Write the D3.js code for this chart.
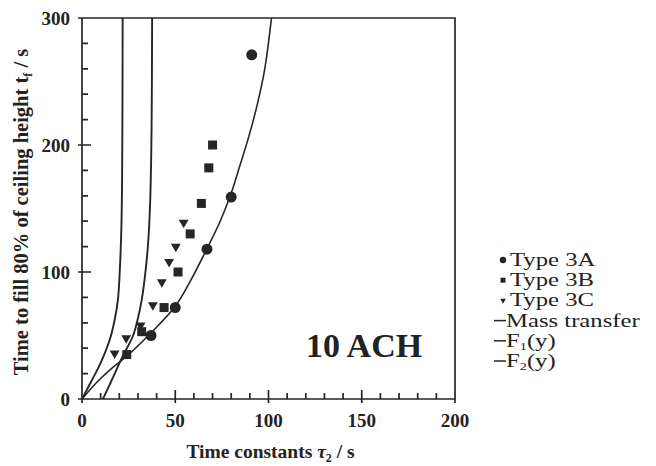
<!DOCTYPE html>
<html>
<head>
<meta charset="utf-8">
<script src="https://cdn.jsdelivr.net/npm/d3@7/dist/d3.min.js"></script>
<style>
  html, body { margin: 0; padding: 0; background: #fff; }
  svg { display: block; }
  text { font-family: "Liberation Serif", "Times New Roman", serif; fill: #222; }
</style>
</head>
<body>
<svg id="chart" width="656" height="466"></svg>
<script>
// Axis ticks
const xTicks = [0, 50, 100, 150, 200];
const yTicks = [0, 100, 200, 300];
const xMinor = d3.range(0, 201, 10);
const yMinor = d3.range(0, 301, 20);

// Measured fill times t_f (s) against time constant tau_2 (s)
const type3A_tau = [37, 50, 67, 80, 91];
const type3A_t   = [50, 72, 118, 159, 271];

const type3B_tau = [24, 32, 44, 51.5, 58, 64, 68, 70];
const type3B_t   = [35, 53, 72, 100, 130, 154, 182, 200];

const type3C_tau = [17.5, 23.7, 31.4, 38, 42.8, 46.7, 50.3, 54.5];
const type3C_t   = [36, 48, 58, 74, 92, 108, 120, 139];

// Model curves
const massTransfer_tau = [0, 8.6, 15.5, 23.5, 36.4, 49.7, 57.8, 66.9, 73.5, 79.5, 84.5, 89.5, 94, 98, 101.6];
const massTransfer_t   = [0, 14.2, 23.6, 33.1, 51.2, 72.4, 92.1, 118.1, 138, 160, 183, 207, 232, 260, 300];

const f1_tau = [0, 4.8, 10.2, 15.0, 17.6, 19.3, 20.3, 21.1, 21.5, 21.7, 21.8];
const f1_t   = [0, 13.4, 29.1, 47.2, 63, 78.7, 102.4, 133.9, 173.2, 236, 300];

const f2_tau = [11.2, 15.5, 21.9, 27.3, 29.9, 32.1, 34.2, 35.6, 36.6, 37.3, 37.6];
const f2_t   = [0, 13.4, 33.9, 49.6, 63, 78.7, 102.4, 126, 157.5, 212.6, 300];

const legendLabels = ["Type 3A", "Type 3B", "Type 3C", "Mass transfer", "F", "F"];
const legendSubs   = ["", "", "", "", "1", "2"];

const ink = "#262626";
const svg = d3.select("#chart");
const plot = { left: 82, right: 455, top: 18, bottom: 399 };

const x = d3.scaleLinear().domain([0, 200]).range([plot.left, plot.right]);
const y = d3.scaleLinear().domain([0, 300]).range([plot.bottom, plot.top]);

const zip = (a, b) => a.map((v, i) => [v, b[i]]);

// clip for curves
svg.append("defs").append("clipPath").attr("id", "plotclip")
  .append("rect")
  .attr("x", plot.left).attr("y", plot.top)
  .attr("width", plot.right - plot.left).attr("height", plot.bottom - plot.top);

// frame outline plus tick marks, drawn as one path
const frame = d3.path();
frame.moveTo(plot.left, plot.top);
frame.lineTo(plot.right, plot.top);
frame.lineTo(plot.right, plot.bottom);
frame.lineTo(plot.left, plot.bottom);
frame.closePath();
xMinor.forEach(d => { frame.moveTo(x(d), plot.bottom); frame.lineTo(x(d), plot.bottom - 6); });
yMinor.forEach(d => { frame.moveTo(plot.left, y(d)); frame.lineTo(plot.left + 6, y(d)); });
xTicks.forEach(d => { frame.moveTo(x(d), plot.bottom + 4); frame.lineTo(x(d), plot.bottom - 9); });
yTicks.forEach(d => { frame.moveTo(plot.left - 4, y(d)); frame.lineTo(plot.left + 9, y(d)); });
svg.append("path")
  .attr("d", frame.toString())
  .attr("fill", "none").attr("stroke", ink).attr("stroke-width", 1.7);

// tick labels
svg.append("g").selectAll("text").data(xTicks).join("text")
  .attr("x", d => x(d)).attr("y", 427)
  .attr("text-anchor", "middle").attr("font-size", 19).attr("font-weight", "bold")
  .text(d3.format("d"));
svg.append("g").selectAll("text").data(yTicks).join("text")
  .attr("x", 70).attr("y", d => y(d) + 7)
  .attr("text-anchor", "end").attr("font-size", 19).attr("font-weight", "bold")
  .text(d3.format("d"));

// curves
const line = d3.line().x(d => x(d[0])).y(d => y(d[1])).curve(d3.curveCatmullRom.alpha(0.5));
const curves = svg.append("g").attr("clip-path", "url(#plotclip)");
[[massTransfer_tau, massTransfer_t, 1.6], [f1_tau, f1_t, 1.9], [f2_tau, f2_t, 1.9]].forEach(([a, b, w]) => {
  curves.append("path")
    .attr("d", line(zip(a, b)))
    .attr("fill", "none").attr("stroke", ink).attr("stroke-width", w);
});

// markers
const pts = svg.append("g");
pts.selectAll("circle").data(zip(type3A_tau, type3A_t)).join("circle")
  .attr("cx", d => x(d[0])).attr("cy", d => y(d[1])).attr("r", 5.5).attr("fill", ink);

const sq = 9;
pts.selectAll("rect").data(zip(type3B_tau, type3B_t)).join("rect")
  .attr("x", d => x(d[0]) - sq / 2).attr("y", d => y(d[1]) - sq / 2)
  .attr("width", sq).attr("height", sq).attr("fill", ink);

const tri = d3.symbol().type(d3.symbolTriangle).size(42);
pts.selectAll("path").data(zip(type3C_tau, type3C_t)).join("path")
  .attr("d", tri)
  .attr("transform", d => `translate(${x(d[0])},${y(d[1])}) rotate(180)`)
  .attr("fill", ink);

// annotation
svg.append("text")
  .attr("x", 306).attr("y", 357)
  .attr("font-size", 34).attr("font-weight", "bold")
  .text("10 ACH");

// axis titles
const xt = svg.append("text")
  .attr("x", (plot.left + plot.right) / 2 + 2).attr("y", 458)
  .attr("text-anchor", "middle").attr("font-size", 19.5).attr("font-weight", "bold");
xt.append("tspan").text("Time constants ");
xt.append("tspan").attr("font-style", "italic").text("τ");
xt.append("tspan").attr("font-size", 12).attr("dy", 4).text("2");
xt.append("tspan").attr("dy", -4).text(" / s");

const yt = svg.append("text")
  .attr("transform", `translate(28,212) rotate(-90)`)
  .attr("text-anchor", "middle").attr("font-size", 20.5).attr("font-weight", "bold");
yt.append("tspan").text("Time to fill 80% of ceiling height t");
yt.append("tspan").attr("font-size", 12).attr("dy", 4).text("f");
yt.append("tspan").attr("dy", -4).text(" / s");

// legend
const lg = svg.append("g").attr("transform", "translate(494,266)");
const rowH = 20.2;
legendLabels.forEach((lab, i) => {
  const row = lg.append("g").attr("transform", `translate(0,${i * rowH})`);
  const cy = -6;
  if (i === 0) row.append("circle").attr("cx", 9).attr("cy", cy).attr("r", 3.2).attr("fill", ink);
  if (i === 1) row.append("rect").attr("x", 6.5).attr("y", cy - 2.5).attr("width", 5).attr("height", 5).attr("fill", ink);
  if (i === 2) row.append("path").attr("d", d3.symbol().type(d3.symbolTriangle).size(14))
    .attr("transform", `translate(9,${cy}) rotate(180)`).attr("fill", ink);
  if (i >= 3) row.append("line").attr("x1", 0).attr("x2", 12).attr("y1", cy).attr("y2", cy)
    .attr("stroke", ink).attr("stroke-width", 1.5);
  const tx = i >= 3 ? 12 : 16;
  const t = row.append("text")
    .attr("transform", `translate(${tx},0) scale(1.3,1)`)
    .attr("font-size", 19);
  t.append("tspan").text(lab);
  if (legendSubs[i]) {
    t.append("tspan").attr("font-size", 11).attr("dy", 3).text(legendSubs[i]);
    t.append("tspan").attr("dy", -3).text("(y)");
  }
});
</script>
</body>
</html>
